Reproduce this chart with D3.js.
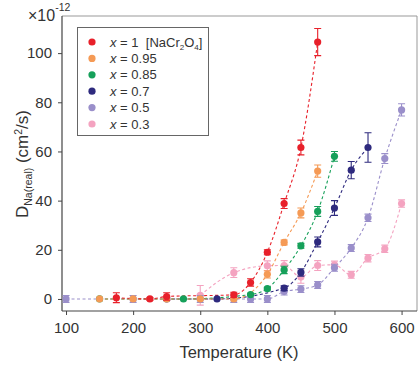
<!DOCTYPE html>
<html>
<head>
<meta charset="utf-8">
<script src="https://cdn.jsdelivr.net/npm/d3@7"></script>
<style>
  body { margin: 0; background: #fff; }
  text { font-family: "Liberation Sans", Arial, sans-serif; fill: #333; }
</style>
</head>
<body>
<div id="chart"></div>
<script>
// series data (T in K, D in 1e-12 cm^2/s)
const seriesNames = ["x = 1", "x = 0.95", "x = 0.85", "x = 0.7", "x = 0.5", "x = 0.3"];
const seriesColors = ["#e8202a", "#f59a55", "#16a05a", "#2e2a7e", "#9a8fca", "#f4a3c0"];

const tempRed = [175, 225, 250, 350, 375, 400, 425, 450, 475];
const valRed  = [0.5, 0, 1, 1.7, 6.7, 19, 38.8, 61.6, 104.5];
const errRed  = [2, 0.5, 1.5, 1, 1.5, 1, 2, 3, 5.5];

const tempOrange = [150, 200, 250, 300, 350, 400, 425, 450, 475];
const valOrange  = [0, 0, 0, 0, 0, 10, 23, 35, 52];
const errOrange  = [0, 0, 0, 0, 0, 1.5, 1, 2, 2.5];

const tempGreen = [150, 275, 375, 400, 425, 450, 475, 500];
const valGreen  = [0, 0, 1.8, 4.2, 11.8, 21.6, 35.6, 58];
const errGreen  = [0, 0, 0.5, 0.5, 1.5, 1, 2, 2];

const tempNavy = [250, 325, 425, 450, 475, 500, 525, 550];
const valNavy  = [0, 0, 4.4, 10.8, 23.2, 37, 52.4, 61.6];
const errNavy  = [0.5, 0, 1, 1.5, 2, 3, 3.5, 6];

const tempLav = [100, 200, 300, 350, 375, 400, 425, 450, 475, 500, 525, 550, 575, 600];
const valLav  = [0, 0, 0, 0, 0, 0, 3, 4, 5.7, 12.7, 20.7, 33, 57.1, 76.9];
const errLav  = [1.4, 1.4, 1.4, 1.4, 1.4, 1.4, 1.4, 1.4, 1.4, 1.4, 1.4, 1.5, 2, 2.5];

const tempPink = [300, 350, 400, 425, 450, 475, 500, 525, 550, 575, 600];
const valPink  = [1.5, 10.7, 13.5, 13.6, 8.9, 13.6, 13.9, 9.8, 16.6, 20.4, 38.8];
const errPink  = [4, 2, 2, 2, 2.5, 2, 1.5, 1.4, 1.5, 1.5, 1.5];

const xTicks = [100, 200, 300, 400, 500, 600];
const yTicks = [0, 20, 40, 60, 80, 100];

const series = [
  { t: tempPink, v: valPink, e: errPink, c: seriesColors[5] },
  { t: tempLav, v: valLav, e: errLav, c: seriesColors[4] },
  { t: tempNavy, v: valNavy, e: errNavy, c: seriesColors[3] },
  { t: tempGreen, v: valGreen, e: errGreen, c: seriesColors[2] },
  { t: tempOrange, v: valOrange, e: errOrange, c: seriesColors[1] },
  { t: tempRed, v: valRed, e: errRed, c: seriesColors[0] }
];

const W = 420, H = 365;
const mLeft = 62, mTop = 16, mRight = 417, mBottom = 311;

const svg = d3.select("#chart").append("svg")
  .attr("width", W)
  .attr("height", H);

const x = d3.scaleLinear().domain([94, 623]).range([mLeft, mRight]);
const y = d3.scaleLinear().domain([-4.9, 115.1]).range([mBottom, mTop]);

// frame (top/right)
svg.append("path")
  .attr("d", `M${mLeft},${mTop}H${mRight}V${mBottom}`)
  .attr("fill", "none")
  .attr("stroke", "#999")
  .attr("stroke-width", 1);

const xAxis = svg.append("g")
  .attr("transform", `translate(0,${mBottom})`)
  .call(d3.axisBottom(x).tickValues(xTicks).tickSize(4).tickPadding(7).tickSizeOuter(0));

const yAxis = svg.append("g")
  .attr("transform", `translate(${mLeft},0)`)
  .call(d3.axisLeft(y).tickValues(yTicks).tickSize(4).tickPadding(6).tickSizeOuter(0));

[xAxis, yAxis].forEach(g => {
  g.select(".domain").attr("stroke", "#444").attr("stroke-width", 1.2);
  g.selectAll(".tick line").attr("stroke", "#444");
  g.selectAll(".tick text")
    .style("font-family", '"Liberation Sans", Arial, sans-serif')
    .style("font-size", "15px")
    .attr("fill", "#333");
});
// extend axis lines to frame corner
xAxis.select(".domain").attr("d", `M${mLeft},0H${mRight}`);
yAxis.select(".domain").attr("d", `M0,${mTop}V${mBottom}`);

const plot = svg.append("g");

const line = d3.line()
  .x(d => x(d[0]))
  .y(d => y(d[1]))
  .curve(d3.curveMonotoneX);

series.forEach(s => {
  const pts = s.t.map((t, i) => [t, s.v[i], s.e[i]]);
  plot.append("path")
    .datum(pts)
    .attr("d", line)
    .attr("fill", "none")
    .attr("stroke", s.c)
    .attr("stroke-width", 1.1)
    .attr("stroke-dasharray", "3,2.5");
});

series.forEach(s => {
  const pts = s.t.map((t, i) => [t, s.v[i], s.e[i]]);
  const g = plot.append("g");
  pts.filter(d => d[2] > 0).forEach(d => {
    const cx = x(d[0]);
    const y1 = y(d[1] + d[2]), y2 = y(d[1] - d[2]);
    g.append("path")
      .attr("d", `M${cx - 3.5},${y1}H${cx + 3.5}M${cx},${y1}V${y2}M${cx - 3.5},${y2}H${cx + 3.5}`)
      .attr("stroke", s.c)
      .attr("stroke-width", 1.1)
      .attr("fill", "none");
  });
  g.selectAll("circle")
    .data(pts)
    .enter()
    .append("circle")
    .attr("cx", d => x(d[0]))
    .attr("cy", d => y(d[1]))
    .attr("r", 3.6)
    .attr("fill", s.c);
});

// exponent label
const expo = svg.append("text")
  .attr("x", 28)
  .attr("y", 21)
  .style("font-size", "16px");
expo.append("tspan").text("×10");
expo.append("tspan").attr("dy", -10).style("font-size", "10.5px").text("-12");

// axis titles
svg.append("text")
  .attr("x", 239)
  .attr("y", 358)
  .attr("text-anchor", "middle")
  .style("font-size", "16.5px")
  .text("Temperature (K)");

const yl = svg.append("text")
  .attr("transform", "translate(28,164) rotate(-90)")
  .attr("text-anchor", "middle")
  .style("font-size", "17px");
yl.append("tspan").text("D");
yl.append("tspan").attr("dy", 4).style("font-size", "10.5px").text("Na(real)");
yl.append("tspan").attr("dy", -4).text("\u00a0(cm");
yl.append("tspan").attr("dy", -6).style("font-size", "10.5px").text("2");
yl.append("tspan").attr("dy", 6).text("/s)");

// legend
const legend = svg.append("g");
legend.append("rect")
  .attr("x", 77.5).attr("y", 27.5)
  .attr("width", 131).attr("height", 108)
  .attr("fill", "#fff")
  .attr("stroke", "#666")
  .attr("stroke-width", 1);

seriesNames.forEach((name, i) => {
  const ly = 42 + i * 16.4;
  legend.append("circle")
    .attr("cx", 92).attr("cy", ly)
    .attr("r", 3.6)
    .attr("fill", seriesColors[i]);
  const t = legend.append("text")
    .attr("x", 110).attr("y", ly + 4.5)
    .style("font-size", "13px");
  t.append("tspan").style("font-style", "italic").text("x");
  t.append("tspan").text(name.slice(1));
  if (i === 0) {
    t.append("tspan").text("\u00a0\u00a0[NaCr");
    t.append("tspan").attr("dy", 3).style("font-size", "8px").text("2");
    t.append("tspan").attr("dy", -3).text("O");
    t.append("tspan").attr("dy", 3).style("font-size", "8px").text("4");
    t.append("tspan").attr("dy", -3).text("]");
  }
});
</script>
</body>
</html>
